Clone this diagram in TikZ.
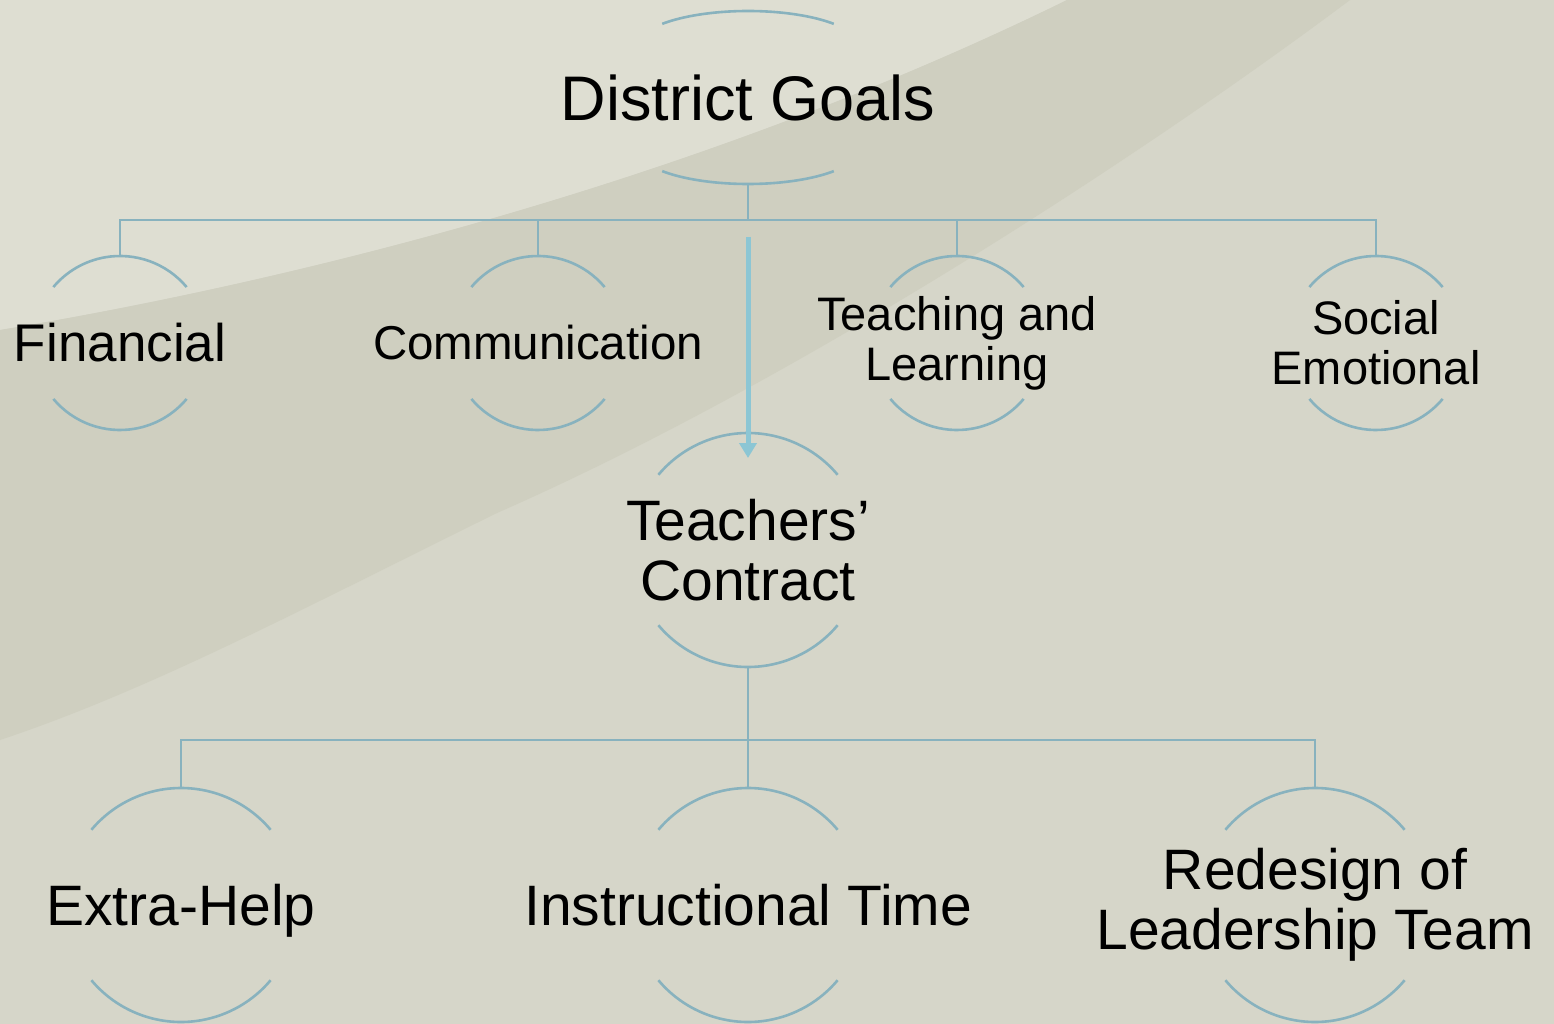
\documentclass[tikz,border=0pt]{standalone}
\usepackage{fontspec}
\setmainfont{Liberation Sans}
\usepackage{tikz}
\usetikzlibrary{arrows.meta}
\definecolor{bgbase}{RGB}{214,214,201}
\definecolor{bglight}{RGB}{222,222,210}
\definecolor{bgdark}{RGB}{207,207,192}
\definecolor{ringblue}{RGB}{136,178,190}
\definecolor{arrowblue}{RGB}{140,198,212}

\begin{document}
\begin{tikzpicture}[x=1pt,y=1pt]
	\tikzstyle{ring}=[draw=ringblue,line width=2.6pt]
	\tikzstyle{link}=[draw=ringblue,line width=2.6pt]
	\tikzstyle{elbow}=[to path={(\tikztostart.south) -- ++(0,-#1) -| (\tikztotarget.north)}]
	\tikzstyle{flow}=[draw=arrowblue,line width=5pt,-{Triangle[width=17pt,length=15pt]}]
	\tikzstyle{small}=[minimum height=174pt,inner sep=0pt,outer sep=0pt,align=center]
	\tikzstyle{big}=[minimum height=234pt,inner sep=0pt,outer sep=0pt,align=center]

	% background
	\useasboundingbox (0,0) rectangle (1554,-1024);
	\fill[bgbase] (0,0) rectangle (1554,-1024);
	\fill[bglight] (0,0) -- (1067,0) .. controls (700,-180) and (300,-280) .. (0,-330) -- cycle;
	\fill[bgdark] (0,-330) .. controls (300,-280) and (700,-180) .. (1067,0) -- (1350,0)
		.. controls (1150,-150) and (800,-380) .. (497,-513) .. controls (300,-610) and (150,-690) .. (0,-740) -- cycle;

	% nodes
	\node[minimum height=173pt,inner sep=0pt,outer sep=0pt,font=\fontsize{63}{70}\selectfont] (goal) at (748,-97.5) {District Goals};
	\node[small,font=\fontsize{53}{58}\selectfont] (fin) at (120,-343) {Financial};
	\node[small,font=\fontsize{47.5}{52}\selectfont] (com) at (538,-343) {Communication};
	\node[small,font=\fontsize{47}{50}\selectfont] (tea) at (957,-343) {Teaching and\\Learning};
	\node[small,font=\fontsize{47}{50}\selectfont] (soc) at (1376,-343) {Social\\Emotional};
	\node[big,font=\fontsize{57}{60}\selectfont] (tc) at (748,-550) {Teachers’\\Contract};
	\node[big,text depth=0pt,font=\fontsize{57}{60}\selectfont] (xh) at (181,-905) {Extra-Help};
	\node[big,font=\fontsize{57}{60}\selectfont] (it) at (748,-905) {Instructional Time};
	\node[big,font=\fontsize{57}{60}\selectfont] (rl) at (1315,-905) {Redesign of\\Leadership Team};

	% arcs round the nodes
	\draw[ring] (goal.center) ++(0,50.5) ++(40:112 and 36) arc[start angle=40,end angle=140,x radius=112,y radius=36];
	\draw[ring] (goal.center) ++(0,-50.5) ++(220:112 and 36) arc[start angle=220,end angle=320,x radius=112,y radius=36];
	\foreach \n in {fin,com,tea,soc}
		\draw[ring] (\n.center) ++(40:87) arc[start angle=40,end angle=140,radius=87]
			(\n.center) ++(220:87) arc[start angle=220,end angle=320,radius=87];
	\foreach \n in {tc,xh,it,rl}
		\draw[ring] (\n.center) ++(40:117) arc[start angle=40,end angle=140,radius=117]
			(\n.center) ++(220:117) arc[start angle=220,end angle=320,radius=117];

	% connectors
	\path[link]
		(goal) edge[elbow=36] (fin)
		(goal) edge[elbow=36] (com)
		(goal) edge[elbow=36] (tea)
		(goal) edge[elbow=36] (soc)
		(tc) edge[elbow=73] (xh)
		(tc) edge[elbow=73] (it)
		(tc) edge[elbow=73] (rl);
	\draw[flow,shorten <=53pt,shorten >=-25pt] (goal) -- (tc);
\end{tikzpicture}
\end{document}
